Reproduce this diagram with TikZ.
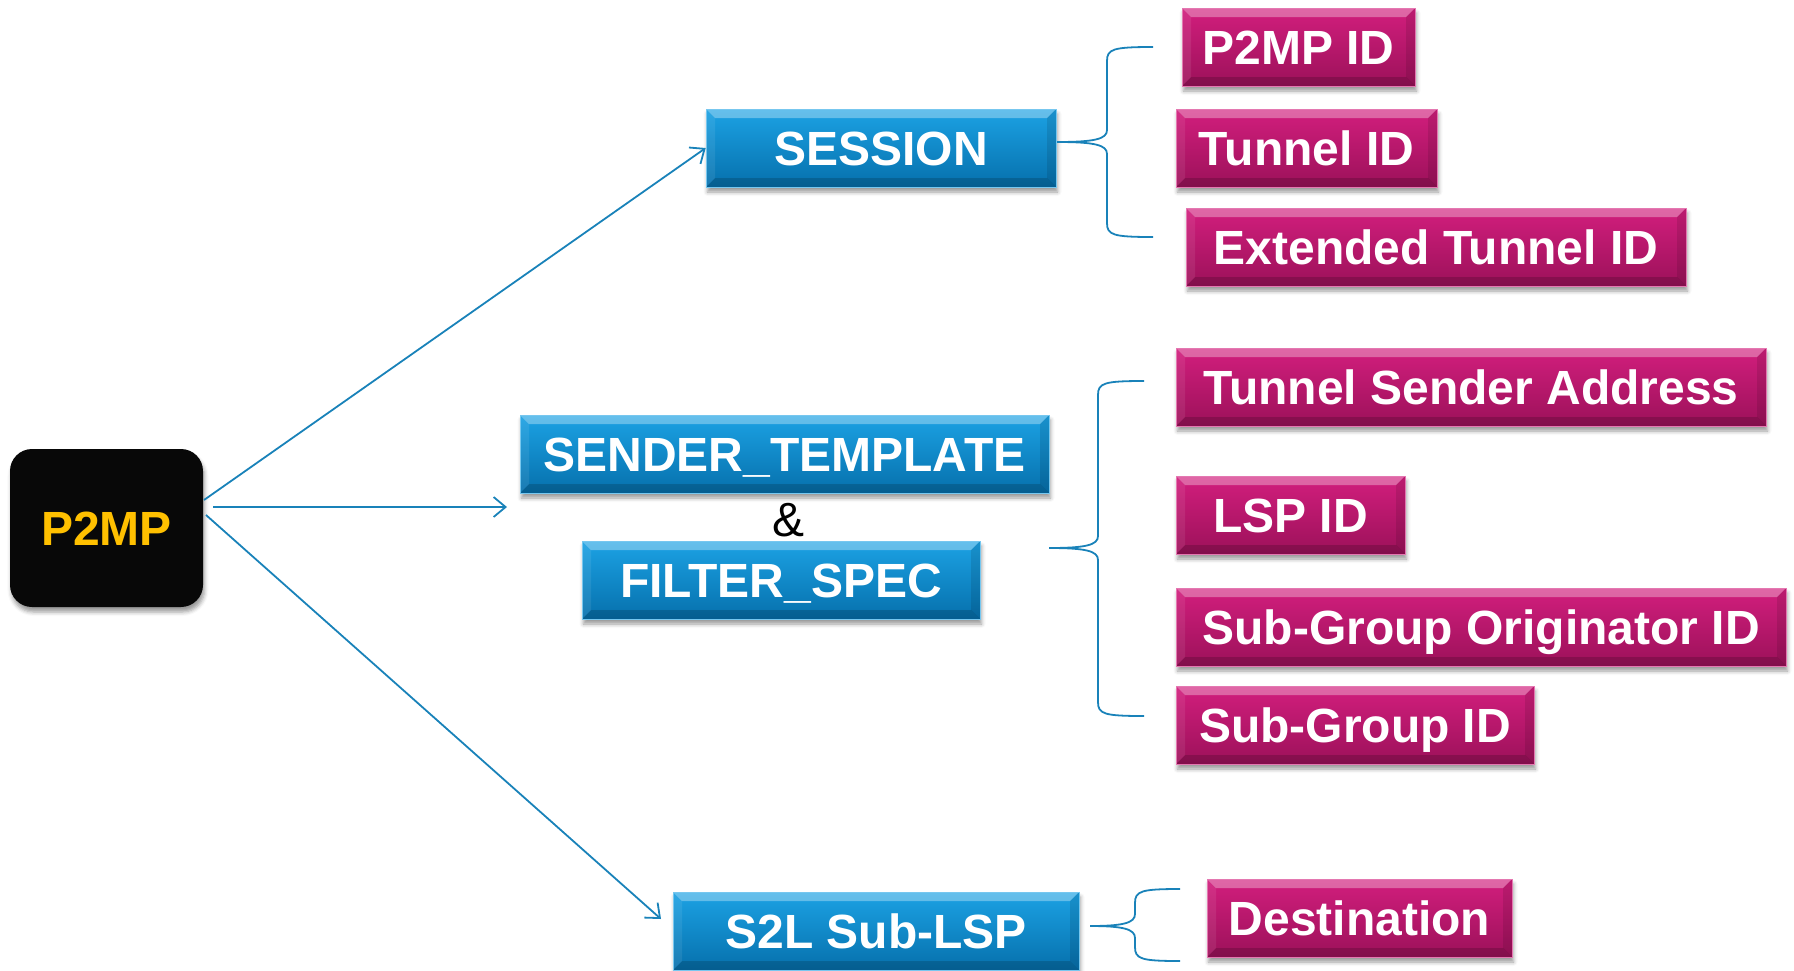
\documentclass[tikz,border=0pt]{standalone}
\usepackage{fontspec}
\setmainfont{Liberation Sans}
\usetikzlibrary{arrows.meta,shadows.blur}
\definecolor{bluetop}{RGB}{28,162,228}
\definecolor{bluemid}{RGB}{10,142,210}
\definecolor{bluebot}{RGB}{6,112,172}
\definecolor{pinktop}{RGB}{210,30,125}
\definecolor{pinkmid}{RGB}{193,24,108}
\definecolor{pinkbot}{RGB}{156,17,90}
\definecolor{linec}{RGB}{25,130,185}
\definecolor{gold}{RGB}{255,192,0}
\newcommand{\curlybrace}[6]{%
  \draw[bracel] (#6,#4) .. controls ({#3+6},#4) and (#3,{#4+2}) .. (#3,{#4+14})
    -- (#3,{#2-12}) .. controls (#3,{#2-3}) and ({#3-12},#2) .. (#1,#2)
    .. controls ({#3-12},#2) and (#3,{#2+3}) .. (#3,{#2+12})
    -- (#3,{#5-14}) .. controls (#3,{#5-2}) and ({#3+6},#5) .. (#6,#5);}
\tikzset{
  bevel/.style={path picture={
    \fill[white,opacity=0.32] (path picture bounding box.north west) -- (path picture bounding box.north east)
      -- ([xshift=-9pt,yshift=-9pt]path picture bounding box.north east) -- ([xshift=9pt,yshift=-9pt]path picture bounding box.north west) -- cycle;
    \fill[black,opacity=0.16] (path picture bounding box.south west) -- (path picture bounding box.south east)
      -- ([xshift=-9pt,yshift=9pt]path picture bounding box.south east) -- ([xshift=9pt,yshift=9pt]path picture bounding box.south west) -- cycle;
    \fill[black,opacity=0.10] (path picture bounding box.north east) -- (path picture bounding box.south east)
      -- ([xshift=-9pt,yshift=9pt]path picture bounding box.south east) -- ([xshift=-9pt,yshift=-9pt]path picture bounding box.north east) -- cycle;
    \fill[white,opacity=0.08] (path picture bounding box.north west) -- (path picture bounding box.south west)
      -- ([xshift=9pt,yshift=9pt]path picture bounding box.south west) -- ([xshift=9pt,yshift=-9pt]path picture bounding box.north west) -- cycle;
  }},
  boxbase/.style={minimum height=78pt, inner sep=0pt, text=white, text height=35pt, text depth=0pt,
    font=\fontsize{48}{56}\selectfont\bfseries, bevel,
    blur shadow={shadow xshift=1.5pt, shadow yshift=-5pt, shadow blur radius=4pt, shadow opacity=40}},
  bluebox/.style={boxbase, top color=bluetop, middle color=bluemid, bottom color=bluebot, draw=bluetop!60!white, line width=0.6pt},
  pinkbox/.style={boxbase, top color=pinktop, middle color=pinkmid, bottom color=pinkbot, draw=pinktop!60!white, line width=0.6pt},
  arr/.style={draw=linec, line width=1.8pt, -{Straight Barb[length=12pt,width=20pt]}},
  bracel/.style={draw=linec, line width=1.8pt},
}
\begin{document}
\begin{tikzpicture}[x=1pt,y=-1pt]
\useasboundingbox (0,0) rectangle (1794,970);
% root
\node[rounded corners=22pt, fill=black!97, minimum width=193pt, minimum height=158pt, inner sep=0pt,
  text=gold, text height=35pt, text depth=0pt, font=\fontsize{48}{56}\selectfont\bfseries,
  blur shadow={shadow xshift=1.5pt, shadow yshift=-5pt, shadow blur radius=4pt, shadow opacity=40}] (p2mp) at (106.5,528) {P2MP};
% blue boxes
\node[bluebox, minimum width=350pt] (session) at (881,148) {SESSION};
\node[bluebox, minimum width=529pt] (sender) at (784.5,454) {SENDER\_TEMPLATE};
\node[inner sep=0pt, text height=35pt, text depth=0pt, font=\fontsize{48}{56}\selectfont] (amp) at (788,519) {\&};
\node[bluebox, minimum width=398pt] (filter) at (781,580) {FILTER\_SPEC};
\node[bluebox, minimum width=406pt] (s2l) at (876,931) {S2L Sub-LSP};
% pink boxes
\node[pinkbox, minimum width=233pt] (p2mpid) at (1298.5,47) {P2MP ID};
\node[pinkbox, minimum width=261pt] (tunnelid) at (1306.5,148) {Tunnel ID};
\node[pinkbox, minimum width=500pt] (extid) at (1436,247) {Extended Tunnel ID};
\node[pinkbox, minimum width=590pt] (tsa) at (1471,387) {Tunnel Sender Address};
\node[pinkbox, minimum width=229pt] (lspid) at (1290.5,515) {LSP ID};
\node[pinkbox, minimum width=610pt] (sgoid) at (1481,627) {Sub-Group Originator ID};
\node[pinkbox, minimum width=358pt] (sgid) at (1355,725) {Sub-Group ID};
\node[pinkbox, minimum width=305pt] (dest) at (1359.5,918) {Destination};
% arrows
\coordinate (a1s) at (204,500);
\coordinate (a2s) at (213,507);
\coordinate (a2e) at (507,507);
\coordinate (a3s) at (206,515);
\coordinate (a3e) at (661,919);
\draw[arr] (a1s) -- (session.west);
\draw[arr] (a2s) -- (a2e);
\draw[arr] (a3s) -- (a3e);
% braces
\curlybrace{1057}{142}{1107}{47}{237}{1153}
\curlybrace{1049}{548}{1098}{381}{716}{1144}
\curlybrace{1090}{926}{1135}{889}{961}{1180}
\end{tikzpicture}
\end{document}
